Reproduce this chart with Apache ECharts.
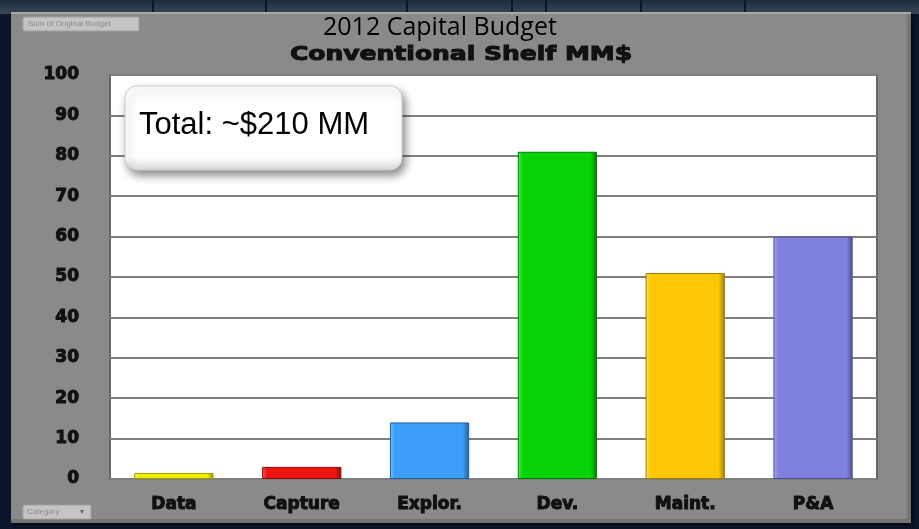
<!DOCTYPE html>
<html>
<head>
<meta charset="utf-8">
<title>2012 Capital Budget</title>
<script src="https://cdn.jsdelivr.net/npm/echarts@6/dist/echarts.min.js"></script>
<style>
  html, body { margin: 0; padding: 0; background: #0b1529; }
  #chart { width: 919px; height: 529px; }
</style>
</head>
<body>
<div id="chart"></div>
<script>
// Budget categories and amounts (MM$)
const categories = ['Data', 'Capture', 'Explor.', 'Dev.', 'Maint.', 'P&A'];
const budget = [1.5, 3, 14, 81, 51, 60];
const yTicks = { min: 0, max: 100, interval: 10 };

// Bar fill per category: [highlight, base, shade]
const barColors = [
  ['#ffff4d', '#eeee00', '#9a9a00'],
  ['#ff5555', '#ee1414', '#8e0a0a'],
  ['#7cc0ff', '#3a9ef8', '#1d5fa0'],
  ['#5cf05c', '#05d305', '#037a03'],
  ['#ffe066', '#fcc706', '#a07d00'],
  ['#a8a8f0', '#8080de', '#4e4e99']
];

function barStyle(i) {
  const c = barColors[i];
  return {
    color: {
      type: 'linear', x: 0, y: 0, x2: 1, y2: 0,
      colorStops: [
        { offset: 0, color: c[0] },
        { offset: 0.06, color: c[1] },
        { offset: 0.92, color: c[1] },
        { offset: 1, color: c[2] }
      ]
    },
    borderColor: c[2],
    borderWidth: 1
  };
}

// heavy label look (stroke thickens the bold glyphs)
const heavyLabel = {
  color: '#111111',
  fontFamily: 'DejaVu Sans',
  fontWeight: 'bold',
  textBorderColor: '#111111',
  textBorderWidth: 1
};

const chart = echarts.init(document.getElementById('chart'), null, { renderer: 'canvas' });

chart.setOption({
  backgroundColor: '#0b1529',
  animation: false,
  grid: {
    left: 110, top: 75, right: 42, bottom: 50,
    show: true,
    backgroundColor: '#ffffff',
    borderColor: '#666666',
    borderWidth: 2
  },
  xAxis: {
    type: 'category',
    data: categories,
    axisLine: { show: false },
    axisTick: { show: false },
    axisLabel: Object.assign({ margin: 17, fontSize: 17 }, heavyLabel)
  },
  yAxis: {
    type: 'value',
    min: yTicks.min, max: yTicks.max, interval: yTicks.interval,
    axisLine: { show: false },
    axisTick: { show: false },
    splitLine: { lineStyle: { color: '#7e7e7e', width: 2 } },
    axisLabel: Object.assign({ margin: 31, fontSize: 17 }, heavyLabel)
  },
  series: [{
    type: 'bar',
    barWidth: '62%',
    data: budget.map((v, i) => ({ value: v, itemStyle: barStyle(i) })),
    z: 3
  }],
  graphic: [
    // slide backdrop strip along the top
    {
      type: 'rect', z: -20, silent: true,
      shape: { x: 0, y: 0, width: 919, height: 14 },
      style: {
        fill: { type: 'linear', x: 0, y: 0, x2: 0, y2: 1,
          colorStops: [{ offset: 0, color: '#1e2b40' }, { offset: 1, color: '#3a4858' }] }
      }
    },
    ...[152, 265, 406, 511, 545, 640, 744].map(x => ({
      type: 'rect', z: -19, silent: true,
      shape: { x: x, y: 0, width: 2, height: 12 },
      style: { fill: '#0e1726' }
    })),
    // grey chart panel
    {
      type: 'rect', z: -10, silent: true,
      shape: { x: 11, y: 12, width: 900, height: 511 },
      style: {
        fill: '#8a8a8a',
        shadowColor: 'rgba(0,0,0,0.6)', shadowBlur: 4, shadowOffsetX: 2, shadowOffsetY: 2
      }
    },
    {
      type: 'rect', z: -9, silent: true,
      shape: { x: 11, y: 12, width: 900, height: 2 },
      style: { fill: '#a8a8a8' }
    },
    {
      type: 'rect', z: -9, silent: true,
      shape: { x: 905, y: 14, width: 6, height: 509 },
      style: {
        fill: { type: 'linear', x: 0, y: 0, x2: 1, y2: 0,
          colorStops: [{ offset: 0, color: '#8a8a8a' }, { offset: 1, color: '#6a6a6a' }] }
      }
    },
    {
      type: 'rect', z: -9, silent: true,
      shape: { x: 11, y: 519, width: 900, height: 4 },
      style: { fill: '#747474' }
    },
    // pivot field buttons
    {
      type: 'group', silent: true,
      children: [
        { type: 'rect', shape: { x: 23, y: 17, width: 116, height: 14, r: 1 },
          style: { fill: '#c4c4c4', stroke: '#a0a0a0', lineWidth: 1 } },
        { type: 'text', x: 28, y: 24,
          style: { text: 'Sum of Original Budget', fill: '#8a8a8a', font: '8px "Liberation Sans"',
            textVerticalAlign: 'middle' } }
      ]
    },
    {
      type: 'group', silent: true,
      children: [
        { type: 'rect', shape: { x: 23, y: 505, width: 68, height: 14, r: 1 },
          style: { fill: '#c4c4c4', stroke: '#a0a0a0', lineWidth: 1 } },
        { type: 'text', x: 27, y: 512,
          style: { text: 'Category', fill: '#8a8a8a', font: '8px "Liberation Sans"',
            textVerticalAlign: 'middle' } },
        { type: 'text', x: 80, y: 512,
          style: { text: '▾', fill: '#666', font: '8px "DejaVu Sans"',
            textVerticalAlign: 'middle' } }
      ]
    },
    // titles
    {
      type: 'text', x: 323, y: 28, z: 10,
      style: {
        text: '2012 Capital Budget', fill: '#000',
        font: '25px "Open Sans"', textVerticalAlign: 'middle'
      }
    },
    {
      type: 'text', x: 290, y: 55, z: 10, scaleX: 1.25,
      style: {
        text: 'Conventional Shelf MM$', fill: '#111', stroke: '#111', lineWidth: 1,
        font: 'bold 20px "DejaVu Sans"', textVerticalAlign: 'middle'
      }
    },
    // total callout
    {
      type: 'rect', z: 20, silent: true,
      shape: { x: 125, y: 86, width: 277, height: 84, r: 12 },
      style: {
        fill: { type: 'linear', x: 0, y: 0, x2: 0, y2: 1,
          colorStops: [
            { offset: 0, color: '#ffffff' },
            { offset: 0.85, color: '#ffffff' },
            { offset: 1, color: '#d8d8d8' }
          ] },
        stroke: '#cfcfcf', lineWidth: 1,
        shadowColor: 'rgba(0,0,0,0.45)', shadowBlur: 8, shadowOffsetX: 3, shadowOffsetY: 5
      }
    },
    {
      type: 'text', x: 139, y: 125, z: 21,
      style: {
        text: 'Total: ~$210 MM', fill: '#000',
        font: '31px "Liberation Sans"', textVerticalAlign: 'middle'
      }
    }
  ]
});
</script>
</body>
</html>
